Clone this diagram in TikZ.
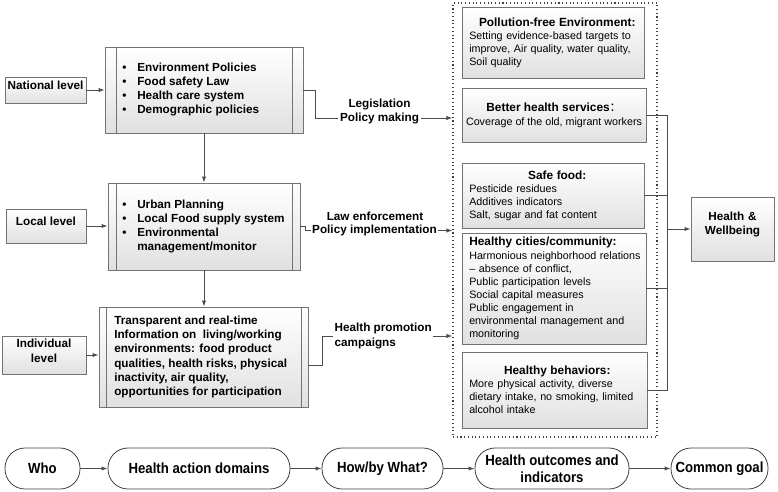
\documentclass[tikz,border=0pt]{standalone}
\usepackage{fontspec}
\setmainfont{Liberation Sans}
\newfontfamily\narrowsf{Liberation Sans}[FakeStretch=0.9]
\newfontfamily\cjkfont{Noto Sans CJK SC}
\usetikzlibrary{arrows.meta,fit,calc}
\newcommand{\blt}{\makebox[11.25pt][l]{\textbullet}}
\begin{document}
\begin{tikzpicture}[x=0.75pt,y=-0.75pt,
 frame/.style={draw=black!55, line width=0.6pt, top color=white, bottom color=black!12, inner sep=0pt},
 framebar/.style={draw=black!55, line width=0.6pt},
 conn/.style={draw=black!70, line width=0.7pt},
 arr/.style={conn, -{Latex[length=4.5pt,width=3.2pt]}},
 bold/.style={font=\bfseries\fontsize{8.8}{10.6}\selectfont},
 lbl/.style={bold, inner sep=1pt},
 rtext/.style={font=\fontsize{8.05}{9.8}\selectfont, align=left, inner sep=0pt, text width=132pt, anchor=west},
 pill/.style={draw=black!75, line width=0.6pt, rounded corners=15pt, fill=white, inner sep=0pt, minimum height=30.75pt, font=\narrowsf\bfseries\fontsize{11}{12.8}\selectfont, align=center},
]
\useasboundingbox (0,0) rectangle (778,492);

% dotted outcome frame
\node[draw=black!75, dotted, line width=0.8pt, fit={(453,3) (657,437)}, inner sep=0pt] (dom) {};

% level boxes
\node[frame, fit={(5,77) (86,103)}, bold] (nat) {National level};
\node[frame, fit={(6,209) (86,243)}, bold] (loc) {Local level};
\node[frame, fit={(2,336) (86,374)}, bold, align=center] (ind) {Individual\\level};

% domain boxes
\node[frame, fit={(105,47) (303,133)}] (b1) {};
\draw[framebar] ($(b1.north west)+(12,0)$) -- ($(b1.south west)+(12,0)$);
\draw[framebar] ($(b1.north east)+(-11,0)$) -- ($(b1.south east)+(-11,0)$);
\node[bold, align=left, inner sep=0pt, anchor=west] (t1) at (122,89.5)
 {\blt Environment Policies\\\blt Food safety Law\\\blt Health care system\\\blt Demographic policies};

\node[frame, fit={(108,183) (300,270)}] (b2) {};
\draw[framebar] ($(b2.north west)+(9,0)$) -- ($(b2.south west)+(9,0)$);
\draw[framebar] ($(b2.north east)+(-8,0)$) -- ($(b2.south east)+(-8,0)$);
\node[bold, align=left, inner sep=0pt, anchor=west] (t2) at (122,226.5)
 {\blt Urban Planning\\\blt Local Food supply system\\\blt Environmental\\\hspace*{11.25pt}management/monitor};

\node[frame, fit={(99,307) (308,407)}] (b3) {};
\draw[framebar] ($(b3.north west)+(8,0)$) -- ($(b3.south west)+(8,0)$);
\draw[framebar] ($(b3.north east)+(-7,0)$) -- ($(b3.south east)+(-7,0)$);
\node[bold, align=left, inner sep=0pt, anchor=west] (t3) at (114,357)
 {Transparent and real-time\\Information on\ \ living/working\\environments: food product\\qualities, health risks, physical\\inactivity, air quality,\\opportunities for participation};

% middle labels
\node[lbl] (leg) at (379.5,104) {Legislation};
\node[lbl] (pm) at (379.5,118) {Policy making};
\node[lbl] (le) at (375,216) {Law enforcement};
\node[lbl] (pi) at (374.5,230.5) {Policy implementation};
\node[lbl, align=left, anchor=west] (hp) at (333,336) {Health promotion\\campaigns};

% outcome boxes
\node[frame, fit={(462,7) (644,78)}] (r1) {};
\node[rtext] (rt1) at (469,43)
 {{\centering\bfseries\fontsize{8.9}{9.8}\selectfont Pollution-free Environment:\par}
  Setting evidence-based targets to\\improve, Air quality, water quality,\\Soil quality};

\node[frame, fit={(462,88) (646,142)}] (r2) {};
\node[align=center, inner sep=0pt, font=\fontsize{8.05}{10.5}\selectfont] (rt2) at (554,115)
 {{\bfseries\fontsize{8.9}{10.5}\selectfont Better health services{\cjkfont\mdseries ：}}\\Coverage of the old, migrant workers};

\node[frame, fit={(462,163) (644,228)}] (r3) {};
\node[rtext] (rt3) at (469,195.5)
 {{\centering\bfseries\fontsize{8.9}{9.8}\selectfont Safe food:\par}
  Pesticide residues\\Additives indicators\\Salt, sugar and fat content};

\node[frame, fit={(462,233) (646,344)}] (r4) {};
\node[rtext] (rt4) at (469,288.5)
 {{\bfseries\fontsize{8.9}{9.8}\selectfont Healthy cities/community:}\\
  Harmonious neighborhood relations\\– absence of conflict,\\Public participation levels\\Social capital measures\\Public engagement in\\environmental management and\\monitoring};

\node[frame, fit={(462,352) (647,428)}] (r5) {};
\node[rtext] (rt5) at (469,390)
 {{\centering\bfseries\fontsize{8.9}{9.8}\selectfont Healthy behaviors:\par}
  More physical activity, diverse\\dietary intake, no smoking, limited\\alcohol intake};

\node[frame, fit={(691,197) (774,261)}, bold, align=center] (hw) {Health \&\\Wellbeing};

% connectors left
\draw[arr] (nat.east) -- (nat.east -| b1.west);
\draw[arr] (loc.east) -- (loc.east -| b2.west);
\draw[arr] (ind.east) -- (ind.east -| b3.west);
\draw[arr] (b1.south) -- (b2.north);
\draw[arr] (b2.south) -- (b2.south |- b3.north);

% connectors middle
\draw[conn] (b1.east) -- ++(12,0) |- (pm.west);
\draw[arr] (pm.east) -- (pm.east -| dom.west);
\draw[conn] (b2.east) -- ++(5,0) |- (pi.west);
\draw[arr] (pi.east) -- (pi.east -| dom.west);
\draw[conn] ($(b3.east)+(0,8)$) -- ++(14,0) |- (hp.west);
\draw[arr] (hp.east) -- (hp.east -| dom.west);

% connectors right
\coordinate (vx) at (667,0);
\draw[conn] (r2.east) -- (r2.east -| vx) -- (r5.east -| vx) -- (r5.east);
\draw[conn] (r3.east) -- (r3.east -| vx);
\draw[conn] (r4.east) -- (r4.east -| vx);
\draw[arr] (hw.west -| vx) -- (hw.west);

% bottom row
\node[pill, minimum width=56.25pt] (who) at (42.5,468.5) {Who};
\node[pill, minimum width=136.5pt] (had) at (199,468.5) {Health action domains};
\node[pill, minimum width=90.75pt] (how) at (382.5,468.5) {How/by What?};
\node[pill, minimum width=115.5pt] (hoi) at (552,468.5) {Health outcomes and\\indicators};
\node[pill, minimum width=72.75pt] (cg) at (719.5,468.5) {Common goal};
\draw[arr] (who) -- (had);
\draw[arr] (had) -- (how);
\draw[arr] (how) -- (hoi);
\draw[arr] (hoi) -- (cg);
\end{tikzpicture}
\end{document}
